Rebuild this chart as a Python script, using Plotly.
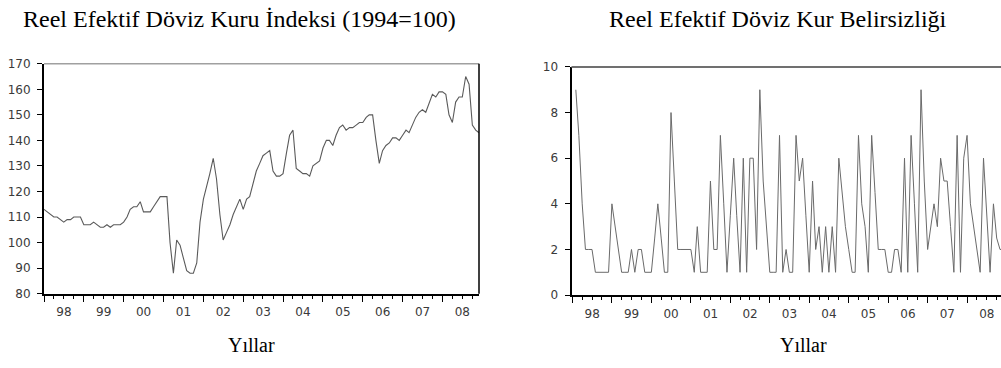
import pandas as pd
import plotly.graph_objects as go

# Reel Efektif Döviz Kuru İndeksi (1994=100), monthly 1998M01-2008M12
reer_dates = pd.date_range("1998-01-01", periods=132, freq="MS")
reer_values = [
    113, 112, 111, 110, 110, 109, 108, 109, 109, 110, 110, 110,   # 1998
    107, 107, 107, 108, 107, 106, 106, 107, 106, 107, 107, 107,   # 1999
    108, 110, 113, 114, 114, 116, 112, 112, 112, 114, 116, 118,   # 2000
    118, 118, 100, 88, 101, 99, 94, 89, 88, 88, 92, 108,          # 2001
    117, 122, 127, 133, 125, 111, 101, 104, 107, 111, 114, 117,   # 2002
    113, 117, 118, 123, 128, 131, 134, 135, 136, 128, 126, 126,   # 2003
    127, 135, 142, 144, 129, 128, 127, 127, 126, 130, 131, 132,   # 2004
    137, 140, 140, 138, 142, 145, 146, 144, 145, 145, 146, 147,   # 2005
    147, 149, 150, 150, 140, 131, 136, 138, 139, 141, 141, 140,   # 2006
    142, 144, 143, 146, 149, 151, 152, 151, 155, 158, 157, 159,   # 2007
    159, 158, 150, 147, 155, 157, 157, 165, 162, 146, 144, 143,   # 2008
]

# Reel Efektif Döviz Kur Belirsizliği, monthly 1998M02-2008M12
unc_dates = pd.date_range("1998-02-01", periods=131, freq="MS")
unc_values = [
    9, 7, 4, 2, 2, 2, 1, 1, 1, 1, 1, 4, 3, 2, 1, 1, 1, 2, 1, 2,
    2, 1, 1, 1, 2.5, 4, 2.5, 1, 1, 8, 5, 2, 2, 2, 2, 2, 1, 3, 1, 1,
    1, 5, 2, 2, 7, 4, 1, 3.5, 6, 3.5, 1, 6, 1, 6, 6, 2, 9, 5, 3, 1,
    1, 1, 7, 1, 2, 1, 1, 7, 5, 6, 3.5, 1, 5, 2, 3, 1, 3, 1, 3, 1,
    6, 4.5, 3, 2, 1, 1, 7, 4, 3, 1, 7, 4.5, 2, 2, 2, 1, 1, 2, 2, 1,
    6, 1, 7, 4, 1, 9, 5, 2, 3, 4, 3, 6, 5, 5, 3, 1, 7, 1, 6, 7,
    4, 3, 2, 1, 6, 3.5, 1, 4, 2.5, 2, 2,
]

left_title = "Reel Efektif Döviz Kuru İndeksi (1994=100)"
right_title = "Reel Efektif Döviz Kur Belirsizliği"
x_title = "Yıllar"

W, H = 1001, 368
def px(x):
    return x / W
def py(y):
    return 1 - y / H

fig = go.Figure()
fig.add_trace(go.Scatter(x=reer_dates, y=reer_values, mode="lines",
                         line=dict(color="#5a5a5a", width=1.1),
                         xaxis="x", yaxis="y", showlegend=False))
fig.add_trace(go.Scatter(x=unc_dates, y=unc_values, mode="lines",
                         line=dict(color="#6a6a6a", width=1.0),
                         xaxis="x2", yaxis="y2", showlegend=False))

tick_font = dict(family="DejaVu Sans", size=12, color="#3a3a3a")
xcommon = dict(type="date", dtick="M12", tick0="1998-01-01", tickformat="%y",
               ticklabelmode="period", ticks="outside", ticklen=6, tickwidth=1,
               tickcolor="black", showline=True, linecolor="black", linewidth=2,
               showgrid=False, zeroline=False, tickfont=tick_font,
               minor=dict(dtick="M3", tick0="1998-01-01", ticks="outside",
                          ticklen=3, tickcolor="black", tickwidth=1, showgrid=False))
ycommon = dict(ticks="outside", ticklen=5, tickwidth=1, tickcolor="black",
               showline=True, linecolor="black", linewidth=2, showgrid=False,
               zeroline=False, tickfont=tick_font, ticklabelstandoff=4)

fig.update_layout(
    width=W, height=H,
    margin=dict(l=0, r=0, t=0, b=0),
    paper_bgcolor="white", plot_bgcolor="white",
    xaxis=dict(xcommon, domain=[px(44), px(479)], anchor="y",
               range=["1998-01-01", "2008-12-01"]),
    yaxis=dict(ycommon, domain=[py(298), py(59)], anchor="x",
               range=[80, 170], dtick=10, tick0=80),
    xaxis2=dict(xcommon, domain=[px(571.5), 1.0], anchor="y2",
                range=["1997-12-23", "2008-11-10"]),
    yaxis2=dict(ycommon, domain=[py(299.5), py(62.3)], anchor="x2",
                range=[0, 10], dtick=2, tick0=0),
    shapes=[
        # left panel frame: top (grey) and right (black)
        dict(type="line", xref="x domain", yref="y domain", x0=0, x1=1, y0=1, y1=1,
             line=dict(color="#a0a0a0", width=1.5)),
        dict(type="line", xref="x domain", yref="y domain", x0=1, x1=1, y0=0, y1=1,
             line=dict(color="black", width=1.5)),
        # right panel frame: top
        dict(type="line", xref="x2 domain", yref="y2 domain", x0=0, x1=1, y0=1, y1=1,
             line=dict(color="#707070", width=2)),
    ],
    annotations=[
        dict(text=left_title, xref="paper", yref="paper", x=px(239), y=py(12),
             xanchor="center", yanchor="middle", showarrow=False,
             font=dict(family="Liberation Serif", size=24, color="black")),
        dict(text=right_title, xref="paper", yref="paper", x=px(777.5), y=py(12),
             xanchor="center", yanchor="middle", showarrow=False,
             font=dict(family="Liberation Serif", size=24, color="black")),
        dict(text=x_title, xref="paper", yref="paper", x=px(251.7), y=py(351),
             xanchor="center", yanchor="middle", showarrow=False,
             font=dict(family="Liberation Serif", size=20, color="black")),
        dict(text=x_title, xref="paper", yref="paper", x=px(803), y=py(351),
             xanchor="center", yanchor="middle", showarrow=False,
             font=dict(family="Liberation Serif", size=20, color="black")),
    ],
)

fig.write_html("out.html", config={"displayModeBar": False},
               post_script="document.body.style.margin='0';document.body.style.overflow='hidden';")
